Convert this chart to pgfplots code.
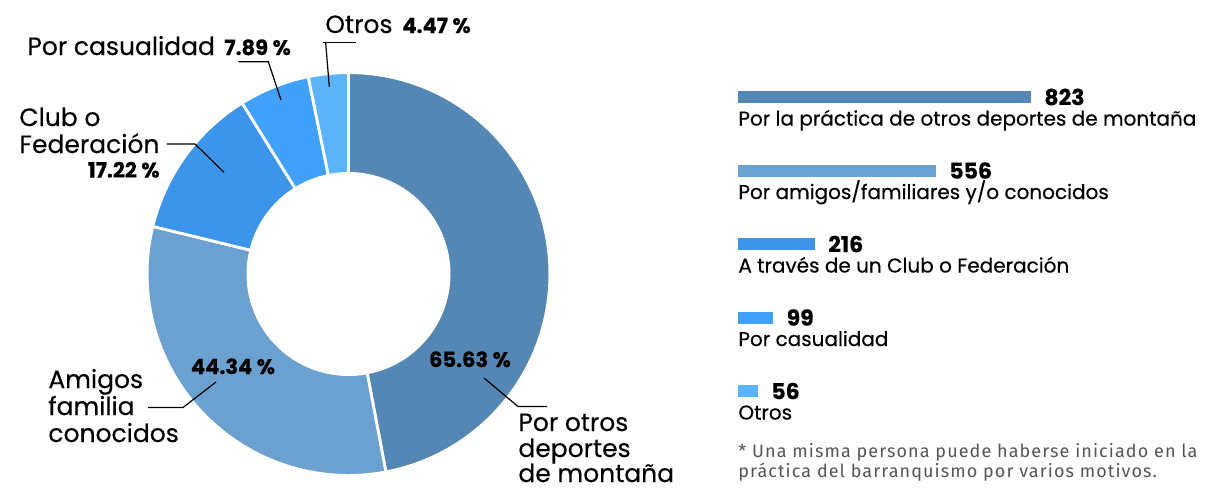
\documentclass[border=0pt]{standalone}
\usepackage{fontspec}
\setmainfont{Poppins}[FakeBold=0.35]
\newfontfamily\notefont{Fira Sans}[LetterSpace=6]
\usepackage{pgfplots}
\usepackage{pgfplotstable}
\pgfplotsset{compat=1.18}

\definecolor{donut0}{HTML}{5587B5}
\definecolor{donut1}{HTML}{6BA1D0}
\definecolor{donut2}{HTML}{3D95EA}
\definecolor{donut3}{HTML}{40A0FA}
\definecolor{donut4}{HTML}{5BB3FA}
\definecolor{notegray}{HTML}{555555}

\pgfplotstableread{
motivo valor
deportes 823
amigos 556
club 216
casualidad 99
otros 56
}\donutdata

\newcommand\bigfont{\fontsize{12.5}{13}\selectfont}
\newcommand\pctfont{\fontsize{10.5}{12}\selectfont\bfseries}
\newcommand\barfont{\fontsize{10}{12}\selectfont}

\begin{document}%
\pgfmathsetmacro\donuttotal{0}%
\foreach \i in {0,...,4}{%
  \pgfplotstablegetelem{\i}{valor}\of\donutdata
  \pgfmathsetmacro\tmp{\donuttotal+\pgfplotsretval}%
  \global\let\donuttotal\tmp
}%
\xdef\angstart{90}%
\foreach \i in {0,...,4}{%
  \pgfplotstablegetelem{\i}{valor}\of\donutdata
  \pgfmathsetmacro\tmp{\angstart-\pgfplotsretval/\donuttotal*360}%
  \expandafter\xdef\csname donutA\i\endcsname{\angstart}%
  \expandafter\xdef\csname donutB\i\endcsname{\tmp}%
  \xdef\angstart{\tmp}%
}%
\begin{tikzpicture}
\useasboundingbox (0,0) rectangle (605pt,-244.5pt);
% ---------------- donut (pixel coordinates, y downwards) -------------
\begin{axis}[
  at={(0pt,0pt)}, anchor=north west,
  x=0.5pt, y=0.5pt, y dir=reverse,
  xmin=0, xmax=1210, ymin=0, ymax=489,
  hide axis, clip=false,
]
\coordinate (C) at (axis cs:348.5,274);
\pgfplotsinvokeforeach{0,...,4}{%
  \filldraw[fill=donut#1, draw=white, line width=1.4pt, line join=miter]
    ([shift={(\csname donutA#1\endcsname:100.7pt)}]C)
    arc[start angle=\csname donutA#1\endcsname, end angle=\csname donutB#1\endcsname, radius=100.7pt]
    -- ([shift={(\csname donutB#1\endcsname:50.3pt)}]C)
    arc[start angle=\csname donutB#1\endcsname, end angle=\csname donutA#1\endcsname, radius=50.3pt]
    -- cycle;
}
% leader lines
\draw[black, line width=0.6pt] (axis cs:323,42.7) -- (axis cs:356,42.7);
\draw[black, line width=0.6pt] (axis cs:325.7,43) -- (axis cs:329.3,86.7);
\draw[black, line width=0.6pt] (axis cs:238.3,61.7) -- (axis cs:268.3,61.7) -- (axis cs:281,100);
\draw[black, line width=0.6pt] (axis cs:166.7,144) -- (axis cs:195,144) -- (axis cs:224,172.3);
\draw[black, line width=0.6pt] (axis cs:148,407.5) -- (axis cs:183,407.5) -- (axis cs:216,382);
\draw[black, line width=0.6pt] (axis cs:547,406.5) -- (axis cs:518,406.5) -- (axis cs:484,378);
% labels
\node[anchor=base west, inner sep=0pt, font=\bigfont] at (axis cs:325,33) {Otros};
\node[anchor=base west, inner sep=0pt, font=\pctfont] at (axis cs:402,33) {4.47 \%};
\node[anchor=base west, inner sep=0pt, font=\bigfont] at (axis cs:27,55) {Por casualidad};
\node[anchor=base west, inner sep=0pt, font=\pctfont] at (axis cs:224,55) {7.89 \%};
\node[anchor=base west, inner sep=0pt, font=\bigfont] at (axis cs:19,126) {Club o};
\node[anchor=base west, inner sep=0pt, font=\bigfont] at (axis cs:19,153) {Federación};
\node[anchor=base east, inner sep=0pt, font=\pctfont] at (axis cs:160,177.5) {17.22 \%};
\node[anchor=base west, inner sep=0pt, font=\bigfont] at (axis cs:48,388) {Amigos};
\node[anchor=base west, inner sep=0pt, font=\bigfont] at (axis cs:48,415) {familia};
\node[anchor=base west, inner sep=0pt, font=\bigfont] at (axis cs:48,442) {conocidos};
\node[anchor=base west, inner sep=0pt, font=\bigfont] at (axis cs:518,431) {Por otros};
\node[anchor=base west, inner sep=0pt, font=\bigfont] at (axis cs:518,457) {deportes};
\node[anchor=base west, inner sep=0pt, font=\bigfont] at (axis cs:518,482) {de montaña};
\node[anchor=base, inner sep=0pt, font=\pctfont] at (axis cs:233,374) {44.34 \%};
\node[anchor=base, inner sep=0pt, font=\pctfont] at (axis cs:470,367) {65.63 \%};
% footnote
\node[anchor=base west, inner sep=0pt, text=notegray, font=\notefont\fontsize{9}{10}\selectfont] at (axis cs:738,457) {* Una misma persona puede haberse iniciado en la};
\node[anchor=base west, inner sep=0pt, text=notegray, font=\notefont\fontsize{9}{10}\selectfont] at (axis cs:738,477) {práctica del barranquismo por varios motivos.};
\end{axis}
% ---------------- horizontal bars -------------
\begin{axis}[
  at={(369pt,-30.125pt)}, anchor=north west,
  x=0.178pt, y=36.75pt, y dir=reverse,
  xmin=0, xmax=1000, ymin=0.5, ymax=5.5,
  hide axis, clip=false,
  xbar, bar width=6pt, bar shift=0pt,
  point meta=x,
  nodes near coords={\pgfmathprintnumber[fixed,precision=0,assume math mode=true]{\pgfplotspointmeta}},
  nodes near coords style={anchor=west, inner sep=0pt, xshift=6.5pt, font=\fontsize{11}{12}\selectfont\bfseries, text=black},
]
\addplot[fill=donut0, draw=none] coordinates {(823,1)};
\addplot[fill=donut1, draw=none] coordinates {(556,2)};
\addplot[fill=donut2, draw=none] coordinates {(216,3)};
\addplot[fill=donut3, draw=none] coordinates {(99,4)};
\addplot[fill=donut4, draw=none] coordinates {(56,5)};
\node[anchor=base west, inner sep=0pt, font=\barfont] at ([yshift=-14.25pt]axis cs:0,1) {Por la práctica de otros deportes de montaña};
\node[anchor=base west, inner sep=0pt, font=\barfont] at ([yshift=-14.25pt]axis cs:0,2) {Por amigos/familiares y/o conocidos};
\node[anchor=base west, inner sep=0pt, font=\barfont] at ([yshift=-14.25pt]axis cs:0,3) {A través de un Club o Federación};
\node[anchor=base west, inner sep=0pt, font=\barfont] at ([yshift=-14.25pt]axis cs:0,4) {Por casualidad};
\node[anchor=base west, inner sep=0pt, font=\barfont] at ([yshift=-14.25pt]axis cs:0,5) {Otros};
\end{axis}
\end{tikzpicture}%
\end{document}
